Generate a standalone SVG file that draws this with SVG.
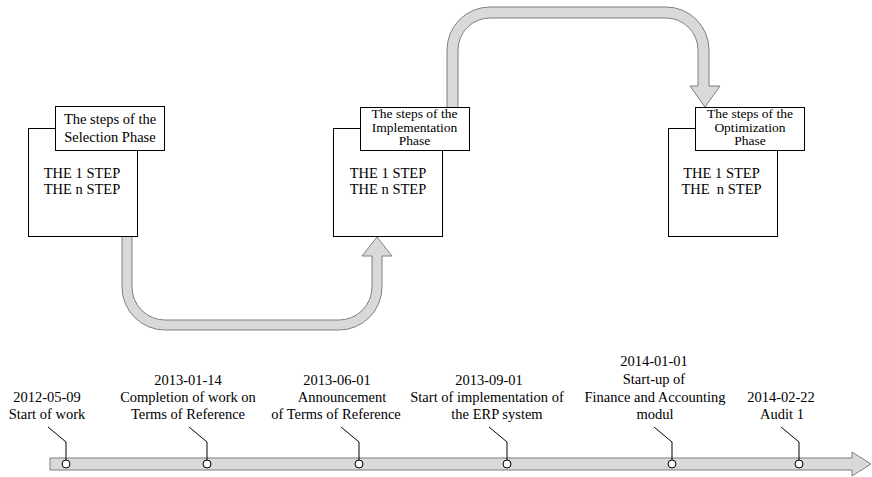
<svg xmlns="http://www.w3.org/2000/svg" width="872" height="477" viewBox="0 0 872 477">
<style>
text{font-family:"Liberation Serif","Times New Roman",serif;font-size:14.5px;fill:#000;text-anchor:middle;white-space:pre}
text.t3{font-size:13.5px}
.box{fill:#fff;stroke:#000;stroke-width:1}
.tube{fill:#d9d9d9;stroke:#7f7f7f;stroke-width:1}
.dot{fill:#fff;stroke:#000;stroke-width:1}
.call{fill:none;stroke:#000;stroke-width:1}
</style>
<rect width="872" height="477" fill="#fff"/>
<g id="connectors">
<path class="tube" d="M122,236 L122,287 A43,43 0 0 0 165,330 L339,330 A43,43 0 0 0 382,287 L382,256 L392,256 L377,237 L362,256 L372,256 L372,287 A33,33 0 0 1 339,320 L165,320 A33,33 0 0 1 132,287 L132,236"/>
<path class="tube" d="M447,107 L447,50 A43,43 0 0 1 490,7 L666,7 A43,43 0 0 1 709,50 L709,86 L720,86 L705,107 L690,86 L698,86 L698,50 A32,32 0 0 0 666,18 L490,18 A32,32 0 0 0 458,50 L458,107"/>
</g>
<g id="selection">
<rect class="box" x="28.5" y="128.5" width="109" height="108"/>
<rect class="box" x="55.5" y="106.5" width="109" height="44"/>
<text x="110" y="124">The steps of the</text>
<text x="110" y="142">Selection Phase</text>
<text x="82" y="178">THE 1 STEP</text>
<text x="82" y="194">THE n STEP</text>
</g>
<g id="implementation">
<rect class="box" x="333.5" y="128.5" width="109" height="108"/>
<rect class="box" x="360.5" y="107.5" width="109" height="43"/>
<text class="t3" x="414.5" y="118">The steps of the</text>
<text class="t3" x="414.5" y="131.5">Implementation</text>
<text class="t3" x="414.5" y="145">Phase</text>
<text x="388" y="178">THE 1 STEP</text>
<text x="388" y="194">THE n STEP</text>
</g>
<g id="optimization">
<rect class="box" x="668.5" y="128.5" width="109" height="108"/>
<rect class="box" x="695.5" y="107.5" width="109" height="43"/>
<text class="t3" x="750" y="118">The steps of the</text>
<text class="t3" x="750" y="131.5">Optimization</text>
<text class="t3" x="750" y="145">Phase</text>
<text x="721.5" y="178">THE 1 STEP</text>
<text x="721.5" y="194">THE  n STEP</text>
</g>
<g id="timeline">
<path class="tube" d="M50,458 L852,458 L852,452 L871,464 L852,476 L852,470 L50,470 Z"/>
</g>
<g id="callouts">
<polyline class="call" points="48,427 66,442 66,460"/>
<polyline class="call" points="189,427 207,442 207,460"/>
<polyline class="call" points="341,427 359,442 359,460"/>
<polyline class="call" points="489,427 507,442 507,460"/>
<polyline class="call" points="654,427 672,442 672,460"/>
<polyline class="call" points="781,427 799,442 799,460"/>
</g>
<g id="m1">
<circle class="dot" cx="66" cy="464" r="4"/>
<text x="47" y="402">2012-05-09</text>
<text x="47" y="419">Start of work</text>
</g>
<g id="m2">
<circle class="dot" cx="207" cy="464" r="4"/>
<text x="188" y="385">2013-01-14</text>
<text x="188" y="402">Completion of work on</text>
<text x="188" y="419">Terms of Reference</text>
</g>
<g id="m3">
<circle class="dot" cx="359" cy="464" r="4"/>
<text x="337" y="385">2013-06-01</text>
<text x="342" y="402">Announcement</text>
<text x="336" y="419">of Terms of Reference</text>
</g>
<g id="m4">
<circle class="dot" cx="507" cy="464" r="4"/>
<text x="489" y="385">2013-09-01</text>
<text x="487" y="402">Start of implementation of</text>
<text x="497" y="419">the ERP system</text>
</g>
<g id="m5">
<circle class="dot" cx="672" cy="464" r="4"/>
<text x="654" y="366">2014-01-01</text>
<text x="654" y="384">Start-up of</text>
<text x="655" y="402">Finance and Accounting</text>
<text x="655" y="419">modul</text>
</g>
<g id="m6">
<circle class="dot" cx="799" cy="464" r="4"/>
<text x="781" y="402">2014-02-22</text>
<text x="782" y="419">Audit 1</text>
</g>
</svg>
